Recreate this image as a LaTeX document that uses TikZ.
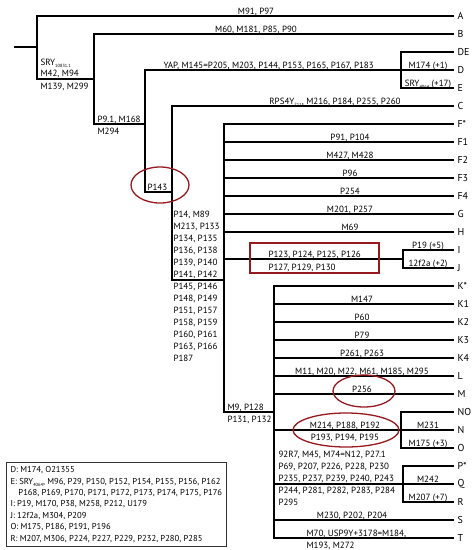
\documentclass[tikz,border=0pt]{standalone}
\usepackage{fontspec}
\setmainfont{PT Sans}
\usetikzlibrary{calc}

\definecolor{ringred}{RGB}{150,25,30}
\newcommand{\subtxt}[1]{\raisebox{-0.5ex}{\fontsize{4.5}{5}\selectfont #1}}

\tikzset{
  tip/.style={anchor=west, inner xsep=3pt, inner ysep=0pt, font=\fontsize{10}{12}\selectfont},
  lbl/.style={anchor=base, inner sep=0pt, font=\fontsize{9}{12}\selectfont},
  lblw/.style={lbl, anchor=base west},
  ring/.style={draw=ringred, line width=1.3pt},
}

\begin{document}
\begin{tikzpicture}[x=1pt, y=-1pt, line width=1.1pt]
    \useasboundingbox (0,0) rectangle (472,550);

    % -------------------------------------------------------------
    % Haplogroup letters at the tips, one row every 18pt
    % -------------------------------------------------------------
    \foreach \n/\t [count=\i from 0] in {A/A, B/B, DE/DE, D/D, E/E, C/C,
        Fs/F*, F1/F1, F2/F2, F3/F3, F4/F4, G/G, H/H, I/I, J/J,
        Ks/K*, K1/K1, K2/K2, K3/K3, K4/K4, L/L, M/M,
        NO/NO, N/N, O/O, Ps/P*, Q/Q, R/R, S/S, T/T}
        \node[tip] (t\n) at (454,{16+18*\i}) {\t};

    % -------------------------------------------------------------
    % Internal splits
    % -------------------------------------------------------------
    \coordinate (root) at (14,47);
    \coordinate (k1) at (37,47);
    \coordinate (k2) at (94,79);
    \coordinate (k3) at (145,124);
    \coordinate (k4) at (172,192);
    \coordinate (k5) at (224,280);
    \coordinate (k6) at (274,412);
    \coordinate (de) at (401,70);
    \coordinate (ij) at (403,259);
    \coordinate (no) at (401,430);
    \coordinate (pr) at (403,484);

    \draw (root) -- (k1);
    \draw (tA.west) -| (k1) |- (k2);
    \draw (tB.west) -| (k2) |- (k3);
    \draw (tD.west) -| (k3) |- (k4);
    \draw (tC.west) -| (k4) |- (k5);
    \draw (tFs.west) -| (k5) |- (k6);
    \draw (tKs.west) -| (k6) |- (tT.west);

    % small brackets DE, IJ, NO, PR
    \draw (tDE.west) -| (de) |- (tE.west);
    \draw (tI.west) -| (ij) |- (tJ.west);
    \draw (ij) -- (ij -| k5);
    \draw (tNO.west) -| (no) |- (tO.west);
    \draw (tPs.west) -| (pr) |- (tR.west);

    \foreach \n in {F1,F2,F3,F4,G,H}
        \draw (t\n.west) -- (t\n.west -| k5);
    \foreach \n in {K1,K2,K3,K4,L,M,N,Q,S}
        \draw (t\n.west) -- (t\n.west -| k6);

    % -------------------------------------------------------------
    % Markers on the branches
    % -------------------------------------------------------------
    \node[lbl] (eA) at (256,14) {M91, P97};
    \node[lbl] (eB) at (256,32) {M60, M181, P85, P90};
    \node[lblw] (eSRYa) at (40,65) {SRY\subtxt{10831.1}};
    \node[lblw] (eSRYb) at (40,76) {M42, M94};
    \node[lblw] (eSRYc) at (40,89) {M139, M299};
    \node[lblw] (eP9a) at (97,122) {P9.1, M168};
    \node[lblw] (eP9b) at (97,134) {M294};
    \node[lblw] (eD) at (163,68) {YAP, M145=P205, M203, P144, P153, P165, P167, P183};
    \node[lbl] (eDd) at (428,68) {M174 (+1)};
    \node[lbl] (eEe) at (428,86) {SRY\subtxt{4064} (+17)};
    \node[lbl] (eC) at (335,104) {RPS4Y\subtxt{711}, M216, P184, P255, P260};
    \node[lblw] (eP143) at (147,190) {P143};

    % F and its subgroups
    \node[lbl, anchor=south west, align=left] (eFa) at (173,279)
        {P14, M89\\M213, P133\\P134, P135\\P136, P138\\P139, P140\\P141, P142};
    \node[lbl, anchor=north west, align=left] (eFb) at (173,283)
        {P145, P146\\P148, P149\\P151, P157\\P158, P159\\P160, P161\\P163, P166\\P187};
    \node[lbl] (eF1) at (350,140) {P91, P104};
    \node[lbl] (eF2) at (350,158) {M427, M428};
    \node[lbl] (eF3) at (350,176) {P96};
    \node[lbl] (eF4) at (350,194) {P254};
    \node[lbl] (eG) at (350,212) {M201, P257};
    \node[lbl] (eH) at (350,230) {M69};
    \node[lblw] (eIJa) at (268,257) {P123, P124, P125, P126};
    \node[lblw] (eIJb) at (268,270) {P127, P129, P130};
    \node[lbl] (eI) at (428,248) {P19 (+5)};
    \node[lbl] (eJ) at (428,266) {12f2a (+2)};

    % K and its subgroups
    \node[lblw] (eM9a) at (227,410) {M9, P128};
    \node[lblw] (eM9b) at (227,422) {P131, P132};
    \node[lbl] (eK1) at (362,302) {M147};
    \node[lbl] (eK2) at (362,320) {P60};
    \node[lbl] (eK3) at (362,338) {P79};
    \node[lbl] (eK4) at (362,356) {P261, P263};
    \node[lbl] (eL) at (362,374) {M11, M20, M22, M61, M185, M295};
    \node[lbl] (eM) at (362,392) {P256};
    \node[lbl] (eNOa) at (345,428) {M214, P188, P192};
    \node[lbl] (eNOb) at (345,440) {P193, P194, P195};
    \node[lbl] (eN) at (428,428) {M231};
    \node[lbl] (eO) at (428,446) {M175 (+3)};
    \node[lbl, anchor=south west, align=left] (ePa) at (278,483)
        {92R7, M45, M74=N12, P27.1\\P69, P207, P226, P228, P230\\P235, P237, P239, P240, P243};
    \node[lbl, anchor=north west, align=left] (ePb) at (278,487)
        {P244, P281, P282, P283, P284\\P295};
    \node[lbl] (eQ) at (428,482) {M242};
    \node[lbl] (eR) at (428,500) {M207 (+7)};
    \node[lbl] (eS) at (352,518) {M230, P202, P204};
    \node[lblw] (eTa) at (306,536) {M70, USP9Y+3178=M184,};
    \node[lblw] (eTb) at (306,548) {M193, M272};

    % -------------------------------------------------------------
    % Highlighted markers
    % -------------------------------------------------------------
    \draw[ring] (160,185) ellipse [x radius=29, y radius=18];
    \draw[ring] (364,391) ellipse [x radius=31, y radius=16];
    \draw[ring] (346,430) ellipse [x radius=53, y radius=17];
    \draw[ring] (250,243) rectangle (379,273);

    % -------------------------------------------------------------
    % Legend
    % -------------------------------------------------------------
    \node[draw=black!80, line width=1pt, anchor=north west, align=left,
          inner sep=4pt, font=\fontsize{8.6}{11.4}\selectfont] (legend) at (6,462)
        {D: M174, O21355\\
         E: SRY\subtxt{4064}, M96, P29, P150, P152, P154, P155, P156, P162\\
         \hspace{8pt}P168, P169, P170, P171, P172, P173, P174, P175, P176\\
         I: P19, M170, P38, M258, P212, U179\\
         J: 12f2a, M304, P209\\
         O: M175, P186, P191, P196\\
         R: M207, M306, P224, P227, P229, P232, P280, P285};
\end{tikzpicture}
\end{document}
